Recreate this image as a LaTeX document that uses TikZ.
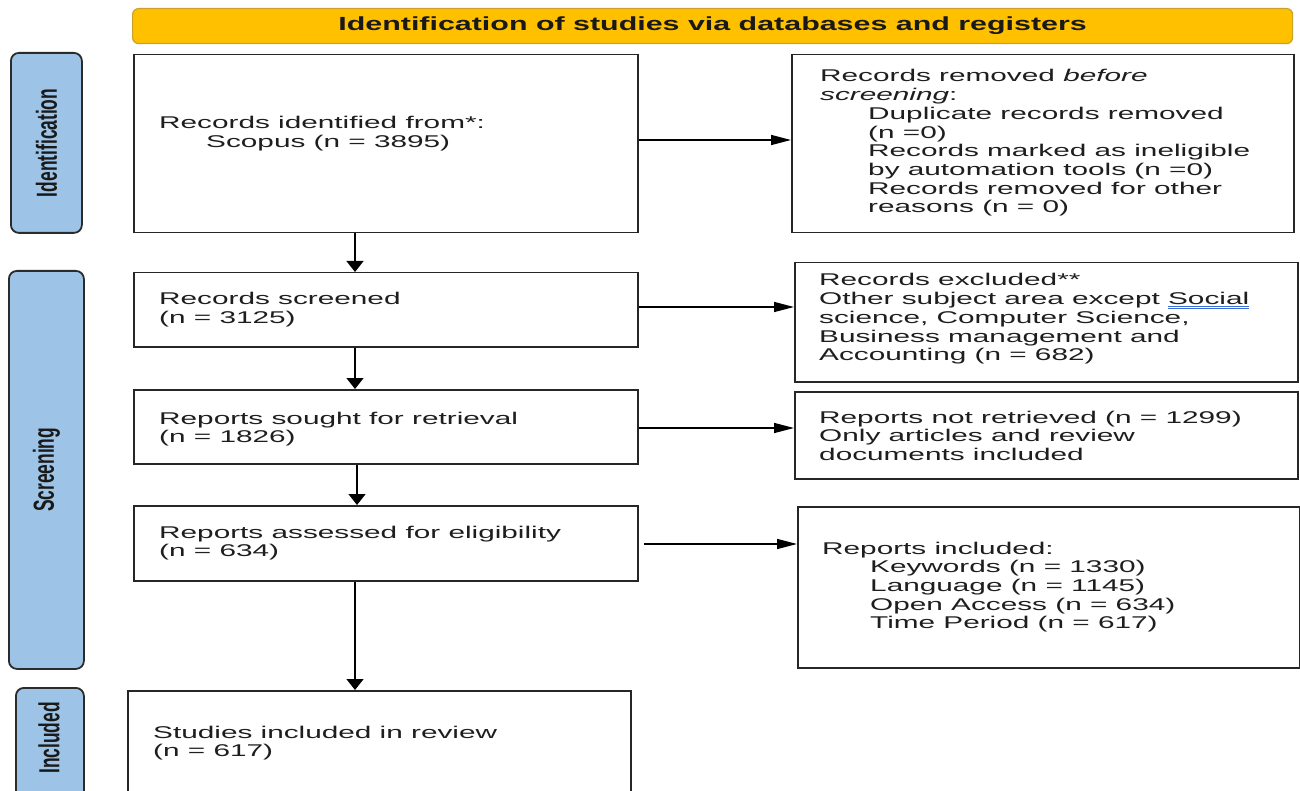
\documentclass[tikz,border=0pt]{standalone}
\usepackage{fontspec}
\usetikzlibrary{arrows.meta}
\newfontfamily\bodyfont[FakeStretch=1.75]{Liberation Sans}
\newfontfamily\bannerfont[FakeStretch=1.6]{Liberation Sans}
\newfontfamily\sidefont[FakeStretch=0.6]{Liberation Sans}
\definecolor{gold}{HTML}{FFC000}
\definecolor{goldline}{HTML}{C9A227}
\definecolor{sideblue}{HTML}{9DC3E6}
\definecolor{sideline}{HTML}{2B2B2B}
\definecolor{txt}{HTML}{1E1E1E}
\definecolor{ulblue}{HTML}{3B6FD6}
\newcommand\dblul[1]{\setbox0\hbox{#1}\rlap{\color{ulblue}\rule[-2.6pt]{\wd0}{0.8pt}}\rlap{\color{ulblue}\rule[-4.6pt]{\wd0}{0.8pt}}\box0}
\newcommand\ind{\hspace*{48pt}}
\newcommand\blk[1]{\begin{tabular}[t]{@{}l@{}}#1\end{tabular}}
\tikzset{
  box/.style={draw=black!85, line width=1.5pt, fill=white, inner sep=0pt, anchor=north west, rectangle},
  side/.style={draw=sideline, line width=1.8pt, fill=sideblue, rounded corners=8pt, inner sep=0pt, anchor=north west, rectangle},
  sidetext/.style={rotate=90, inner sep=0pt, text=black!90, font=\sidefont\bfseries\fontsize{29}{30}\selectfont},
  banner/.style={draw=goldline, line width=1.2pt, fill=gold, rounded corners=6pt, inner sep=0pt, anchor=north west, text=black!90, font=\bannerfont\bfseries\fontsize{19}{20}\selectfont},
  txtblk/.style={anchor=base west, inner sep=0pt, text=txt, font=\bodyfont\fontsize{17}{18.7}\selectfont},
  harr/.style={-{Triangle[length=20pt,width=10pt]}, line width=1.5pt},
  varr/.style={-{Triangle[length=11pt,width=17pt]}, line width=1.5pt},
}
\begin{document}
\begin{tikzpicture}[x=1pt,y=-1pt]
\clip (0,0) rectangle (1300,791);
\fill[white] (0,0) rectangle (1300,791);

% banner
\node[banner, minimum width=1160pt, minimum height=35pt] (ban) at (132,8) {Identification of studies via databases and registers};

% side labels
\node[side, minimum width=71pt, minimum height=180pt] (sid) at (10,52) {};
\node[sidetext] (sidt) at (sid.center) {Identification};
\node[side, minimum width=75pt, minimum height=398pt] (sscr) at (8,270) {};
\node[sidetext] (sscrt) at (sscr.center) {Screening};
\node[side, minimum width=68pt, minimum height=140pt] (sinc) at (15,687) {};
\node[sidetext] (sinct) at (49,738) {Included};

% boxes
\node[box, minimum width=504pt, minimum height=178pt] (ri) at (133,54) {};
\node[box, minimum width=502pt, minimum height=178pt] (rr) at (791,54) {};
\node[box, minimum width=504pt, minimum height=74pt] (rs) at (133,272) {};
\node[box, minimum width=503pt, minimum height=119pt] (re) at (794,262) {};
\node[box, minimum width=504pt, minimum height=74pt] (rso) at (133,389) {};
\node[box, minimum width=503pt, minimum height=87pt] (rnr) at (794,391) {};
\node[box, minimum width=504pt, minimum height=75pt] (ra) at (133,505) {};
\node[box, minimum width=502pt, minimum height=161pt] (rinc) at (797,506) {};
\node[box, minimum width=503pt, minimum height=130pt] (si) at (127,690) {};

% texts
\node[txtblk] (riT) at (159,129) {\blk{Records identified from*:\\ \hspace*{47pt}Scopus (n = 3895)}};
\node[txtblk] (rrT) at (820,82) {\blk{Records removed \textit{before}\\ \textit{screening}:\\ \ind Duplicate records removed\\ \ind (n =0)\\ \ind Records marked as ineligible\\ \ind by automation tools (n =0)\\ \ind Records removed for other\\ \ind reasons (n = 0)}};
\node[txtblk] (rsT) at (159,305) {\blk{Records screened\\ (n = 3125)}};
\node[txtblk] (reT) at (819,286) {\blk{Records excluded**\\ Other subject area except \dblul{Social}\\ science, Computer Science,\\ Business management and\\ Accounting (n = 682)}};
\node[txtblk] (rsoT) at (159,424) {\blk{Reports sought for retrieval\\ (n = 1826)}};
\node[txtblk] (rnrT) at (819,423) {\blk{Reports not retrieved (n = 1299)\\ Only articles and review\\ documents included}};
\node[txtblk] (raT) at (159,538) {\blk{Reports assessed for eligibility\\ (n = 634)}};
\node[txtblk] (rincT) at (822,554) {\blk{Reports included:\\ \ind Keywords (n = 1330)\\ \ind Language (n = 1145)\\ \ind Open Access (n = 634)\\ \ind Time Period (n = 617)}};
\node[txtblk] (siT) at (153,738) {\blk{Studies included in review\\ (n = 617)}};

% connector guides
\coordinate (vx) at (355,0);
\coordinate (vx2) at (357,0);
\coordinate (h1) at (0,140);
\coordinate (h2) at (0,307);
\coordinate (h3) at (0,428);
\coordinate (h4) at (0,544);

% vertical arrows
\draw[varr] (ri.south -| vx) -- (rs.north -| vx);
\draw[varr] (rs.south -| vx) -- (rso.north -| vx);
\draw[varr] (rso.south -| vx2) -- (ra.north -| vx2);
\draw[varr] (ra.south -| vx) -- (si.north -| vx);

% horizontal arrows
\draw[harr] (ri.east |- h1) -- (rr.west |- h1);
\draw[harr] (rs.east |- h2) -- (re.west |- h2);
\draw[harr] (rso.east |- h3) -- (rnr.west |- h3);
\draw[harr] ([xshift=5pt]ra.east |- h4) -- (rinc.west |- h4);
\end{tikzpicture}
\end{document}
